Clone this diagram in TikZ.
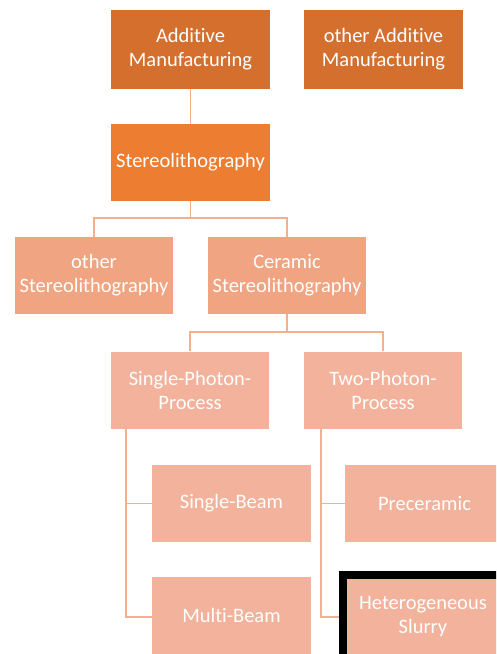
\documentclass[tikz,border=0pt]{standalone}
\usepackage{fontspec}
\setmainfont{Carlito}[Ligatures=NoCommon]
\definecolor{cA}{RGB}{213,111,45}
\definecolor{cB}{RGB}{237,125,49}
\definecolor{cC}{RGB}{240,164,130}
\definecolor{cD}{RGB}{242,178,155}
\definecolor{cL}{RGB}{243,176,140}
\begin{document}
\begin{tikzpicture}[x=1pt,y=-1pt,
  box/.style={rectangle, minimum width=159pt, minimum height=77pt, inner sep=0pt,
    align=center, text=white, font=\fontsize{20.5}{24}\selectfont},
  conn/.style={draw=cL, line width=1.6pt}]
\useasboundingbox (0,0) rectangle (496,654);
\clip (0,0) rectangle (496,654);
\fill[white] (0,0) rectangle (496,654);
\node[box, fill=cA, minimum height=79pt] (am) at (190.5,49.5) {Additive\\Manufacturing};
\node[box, fill=cA, minimum height=79pt] (oam) at (383.5,49.5) {other Additive\\Manufacturing};
\node[box, fill=cB] (sl) at (190.5,162.5) {Stereolithography};
\node[box, fill=cC, minimum width=158pt] (osl) at (94,275.5) {other\\Stereolithography};
\node[box, fill=cC, minimum width=158pt] (csl) at (287,275.5) {Ceramic\\Stereolithography};
\node[box, fill=cD, minimum width=158pt] (spp) at (190,390) {Single-Photon-\\Process};
\node[box, fill=cD, minimum width=158pt] (tpp) at (383,390) {Two-Photon-\\Process};
\node[box, fill=cD] (sb) at (231.5,503.5) {Single-Beam};
\node[box, fill=cD] (pc) at (424.5,503.5) {Preceramic};
\node[box, fill=cD] (mb) at (231.5,615.5) {Multi-Beam};
\node[box, fill=cD, draw=black, line width=8pt, minimum width=160pt, minimum height=84pt] (hs) at (423,617) {Heterogeneous\\Slurry};
\draw[conn] (am.south) -- (sl.north);
\draw[conn] (sl.south) -- ++(0,17) -| (osl.north);
\draw[conn] (sl.south) -- ++(0,17) -| (csl.north);
\draw[conn] (csl.south) -- ++(0,18) -| (spp.north);
\draw[conn] (csl.south) -- ++(0,18) -| (tpp.north);
\draw[conn] ([xshift=15pt]spp.south west) |- (sb.west);
\draw[conn] ([xshift=15pt]spp.south west) |- ([yshift=-1.5pt]mb.west);
\draw[conn] ([xshift=17pt]tpp.south west) |- (pc.west);
\draw[conn] ([xshift=17pt]tpp.south west) |- (hs.west);
\end{tikzpicture}
\end{document}
